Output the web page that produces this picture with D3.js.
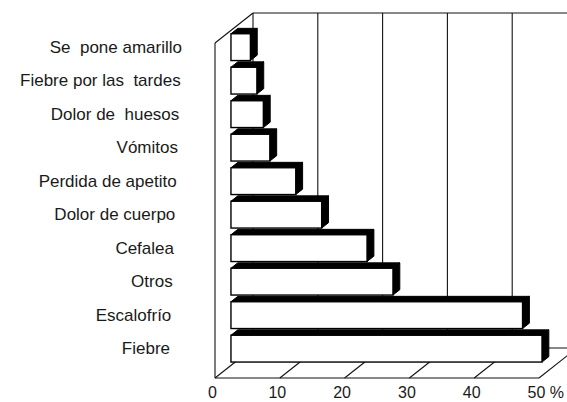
<!DOCTYPE html>
<html>
<head>
<meta charset="utf-8">
<script src="https://cdn.jsdelivr.net/npm/d3@7"></script>
<style>
  body { margin: 0; background: #fff; }
  svg { display: block; font-family: "Liberation Sans", Arial, sans-serif; }
  .cat { white-space: pre; }
</style>
</head>
<body>
<svg id="chart" width="567" height="402"></svg>
<script>
// categories, top to bottom
const categories = [
  'Se  pone amarillo',
  'Fiebre por las  tardes',
  'Dolor de  huesos',
  'Vómitos',
  'Perdida de apetito',
  'Dolor de cuerpo',
  'Cefalea',
  'Otros',
  'Escalofrío',
  'Fiebre'
];
const values = [3, 4, 5, 6, 10, 14, 21, 25, 45, 48];
const tickValues = [0, 10, 20, 30, 40, 50];
const gridValues = [10, 20, 30, 40];

const svg = d3.select('#chart');

// front plane of the 3d box
const plotTop = 43, plotBottom = 378;
const depthX = 38, depthY = -30; // full depth of the box
const barFront = 0.42, barBack = 0.6; // bar depth as fraction of box depth

const x = d3.scaleLinear().domain([0, 50]).range([215, 539]);
const y = d3.scaleBand().domain(categories).range([plotTop, plotBottom])
  .paddingInner(0.2).paddingOuter(0.1);

// project a point (value / front y, depth fraction)
const px = (v, d) => x(v) + depthX * d;
const py = (yy, d) => yy + depthY * d;

const stroke = '#111';
const walls = svg.append('g').attr('fill', 'none').attr('stroke', stroke).attr('stroke-width', 1.1);

// back wall
walls.append('line').attr('x1', px(0, 1)).attr('y1', py(plotTop, 1)).attr('x2', px(50, 1)).attr('y2', py(plotTop, 1));
walls.append('line').attr('x1', px(0, 1)).attr('y1', py(plotTop, 1)).attr('x2', px(0, 1)).attr('y2', py(plotBottom, 1));
walls.selectAll('.vgrid').data(gridValues).join('line')
  .attr('x1', d => px(d, 1)).attr('y1', py(plotTop, 1))
  .attr('x2', d => px(d, 1)).attr('y2', py(plotBottom, 1));

// left wall
walls.append('line').attr('x1', px(0, 0)).attr('y1', plotTop).attr('x2', px(0, 1)).attr('y2', py(plotTop, 1));
walls.append('line').attr('x1', px(0, 0)).attr('y1', plotTop).attr('x2', px(0, 0)).attr('y2', plotBottom);

// floor
walls.append('line').attr('x1', px(0, 0)).attr('y1', plotBottom).attr('x2', px(50, 0)).attr('y2', plotBottom);
walls.append('line').attr('x1', px(0, 1)).attr('y1', py(plotBottom, 1)).attr('x2', px(50, 1)).attr('y2', py(plotBottom, 1));
walls.selectAll('.fgrid').data([0, ...gridValues, 50]).join('line')
  .attr('x1', d => px(d, 0)).attr('y1', plotBottom)
  .attr('x2', d => px(d, 1)).attr('y2', py(plotBottom, 1));

// bars
const bars = svg.append('g').selectAll('g').data(values).join('g');
const poly = pts => pts.map(p => p.join(',')).join(' ');

bars.append('polygon') // top face
  .attr('fill', '#000').attr('stroke', '#000').attr('stroke-width', 1)
  .attr('points', (d, i) => {
    const t = y(categories[i]);
    return poly([[px(0, barFront), py(t, barFront)], [px(0, barBack), py(t, barBack)],
                 [px(d, barBack), py(t, barBack)], [px(d, barFront), py(t, barFront)]]);
  });
bars.append('polygon') // right face
  .attr('fill', '#000').attr('stroke', '#000').attr('stroke-width', 1)
  .attr('points', (d, i) => {
    const t = y(categories[i]), b = t + y.bandwidth();
    return poly([[px(d, barFront), py(t, barFront)], [px(d, barBack), py(t, barBack)],
                 [px(d, barBack), py(b, barBack)], [px(d, barFront), py(b, barFront)]]);
  });
bars.append('rect') // front face
  .attr('fill', '#fff').attr('stroke', '#000').attr('stroke-width', 1.4)
  .attr('x', px(0, barFront))
  .attr('y', (d, i) => py(y(categories[i]), barFront))
  .attr('width', d => x(d) - x(0))
  .attr('height', y.bandwidth());

// category labels
const labelX = d3.scaleLinear().domain([0, categories.length - 1]).range([182, 170]);
svg.append('g').selectAll('text').data(categories).join('text')
  .attr('class', 'cat')
  .attr('x', (d, i) => labelX(i))
  .attr('y', d => py(y(d) + y.bandwidth() / 2, barFront))
  .attr('dy', '0.33em')
  .attr('text-anchor', 'end')
  .attr('font-size', 17)
  .attr('fill', '#1a1a1a')
  .text(d => d);

// value axis
const axis = svg.append('g')
  .attr('transform', `translate(-3,${plotBottom})`)
  .call(d3.axisBottom(x).tickValues(tickValues).tickSize(0).tickPadding(0).tickFormat(d3.format('d')));
axis.select('.domain').remove();
axis.selectAll('text')
  .attr('font-size', 16)
  .attr('font-family', '"Liberation Sans", Arial, sans-serif')
  .attr('fill', '#1a1a1a')
  .attr('dy', null)
  .attr('y', 19.5);
axis.selectAll('.tick').filter(d => d === 50).select('text')
  .attr('text-anchor', 'start').attr('dx', -9)
  .text(d => d + ' %');
</script>
</body>
</html>
